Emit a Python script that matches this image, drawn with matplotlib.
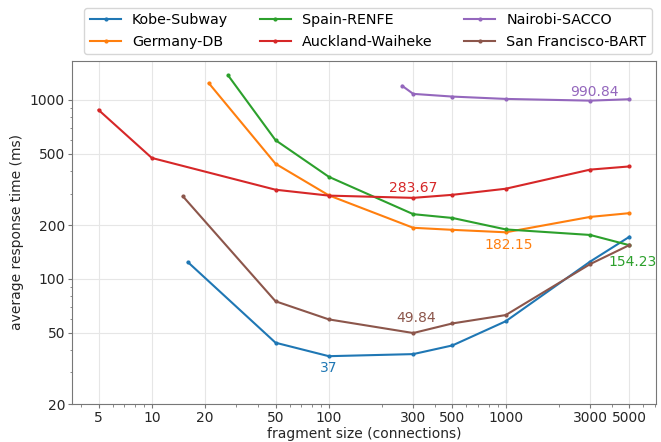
import matplotlib
matplotlib.use("Agg")
import matplotlib.pyplot as plt
from matplotlib.ticker import FixedLocator, FixedFormatter, NullFormatter

names = ["Kobe-Subway", "Germany-DB", "Spain-RENFE", "Auckland-Waiheke",
         "Nairobi-SACCO", "San Francisco-BART"]

kobe_x = [16, 50, 100, 300, 500, 1000, 3000, 5000]
kobe_y = [124, 44, 37, 38, 42.5, 58, 125, 172]

germany_x = [21, 50, 100, 300, 500, 1000, 3000, 5000]
germany_y = [1240, 440, 293, 193, 188, 182.15, 222, 233]

spain_x = [27, 50, 100, 300, 500, 1000, 3000, 5000]
spain_y = [1370, 596, 372, 230, 219, 189, 176, 154.23]

auckland_x = [5, 10, 50, 100, 300, 500, 1000, 3000, 5000]
auckland_y = [879, 474, 315, 292, 283.67, 295, 319, 408, 425]

nairobi_x = [260, 300, 500, 1000, 3000, 5000]
nairobi_y = [1198, 1081, 1044, 1013, 990.84, 1009]

sf_x = [15, 50, 100, 300, 500, 1000, 3000, 5000]
sf_y = [289, 75, 59.4, 49.84, 56.4, 62.8, 121, 154.6]

series_x = [kobe_x, germany_x, spain_x, auckland_x, nairobi_x, sf_x]
series_y = [kobe_y, germany_y, spain_y, auckland_y, nairobi_y, sf_y]

# annotations: (series index, x value, label)
ann_series = [0, 3, 1, 4, 2, 5]
ann_x = [100, 300, 1000, 3000, 5000, 300]
ann_text = ["37", "283.67", "182.15", "990.84", "154.23", "49.84"]
ann_offsets = [(0, -8.6), (0, 7.2), (2, -9.4), (2.9, 6.5), (2, -12.2), (2, 10.8)]

x_ticks = [5, 10, 20, 50, 100, 300, 500, 1000, 3000, 5000]
y_ticks = [20, 50, 100, 200, 500, 1000]

colors = ["C0", "C1", "C2", "C3", "C4", "C5"]

fig = plt.figure(figsize=(6.61, 4.42), dpi=100)
ax = fig.add_axes([72/661, 1-404/442, (656-72)/661, (404-61)/442])

for name, xs, ys, c in zip(names, series_x, series_y, colors):
    ax.plot(xs, ys, color=c, lw=1.5, marker=".", ms=4, label=name)

ax.set_xscale("log")
ax.set_yscale("log")
ax.set_ylim(20, 1650)

for si, xv, txt, off in zip(ann_series, ann_x, ann_text, ann_offsets):
    yv = series_y[si][series_x[si].index(xv)]
    ax.annotate(txt, (xv, yv), xytext=off, textcoords="offset points",
                ha="center", va="center", color=colors[si], fontsize=10)

ax.xaxis.set_major_locator(FixedLocator(x_ticks))
ax.xaxis.set_major_formatter(FixedFormatter([str(t) for t in x_ticks]))
ax.xaxis.set_minor_formatter(NullFormatter())
ax.yaxis.set_major_locator(FixedLocator(y_ticks))
ax.yaxis.set_major_formatter(FixedFormatter([str(t) for t in y_ticks]))
ax.yaxis.set_minor_formatter(NullFormatter())

ax.grid(True, which="major", color="#e6e6e6", lw=0.8)
ax.set_axisbelow(True)
for s in ax.spines.values():
    s.set_color("#777777")
ax.tick_params(which="both", colors="#777777", labelcolor="#262626", labelsize=10)
ax.tick_params(which="major", length=3, pad=2)
ax.tick_params(which="minor", length=1.8)
ax.tick_params(axis="x", which="major", pad=2.2)

ax.set_xlabel("fragment size (connections)", fontsize=10, color="#262626", labelpad=1)
ax.set_ylabel("average response time (ms)", fontsize=10, color="#262626", labelpad=4)

fig.legend(loc="upper left", bbox_to_anchor=(77/661, 1-0.5/442), ncol=3,
           fontsize=10.3, frameon=True, handlelength=2.2, columnspacing=2.2,
           handletextpad=0.75)

fig.savefig("out.png", dpi=100)
